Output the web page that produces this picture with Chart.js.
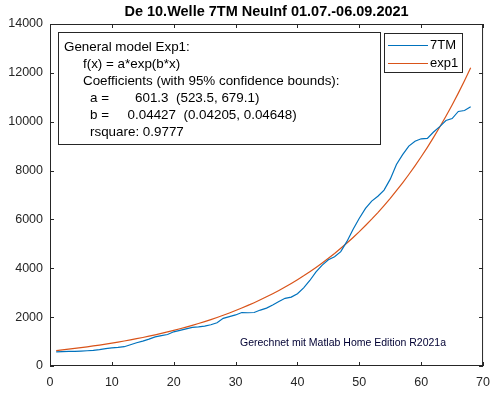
<!DOCTYPE html>
<html lang="de">
<head>
    <meta charset="UTF-8">
    <title>De 10.Welle 7TM NeuInf</title>
    <script src="https://cdn.jsdelivr.net/npm/chart.js"></script>
    <style>
        body { margin: 0; background: #ffffff; }
        .chart-box { width: 499px; height: 396px; position: relative; }
    </style>
</head>
<body>
    <div class="chart-box">
        <canvas id="fitChart"></canvas>
    </div>

    <script>
        // Tage seit 01.07.
        const days = [1, 2, 3, 4, 5, 6, 7, 8, 9, 10, 11, 12, 13, 14, 15, 16, 17, 18, 19, 20,
            21, 22, 23, 24, 25, 26, 27, 28, 29, 30, 31, 32, 33, 34, 35, 36, 37, 38, 39, 40,
            41, 42, 43, 44, 45, 46, 47, 48, 49, 50, 51, 52, 53, 54, 55, 56, 57, 58, 59, 60,
            61, 62, 63, 64, 65, 66, 67, 68];

        // 7-Tage-Mittel Neuinfektionen
        const sevenDayMean = [580, 590, 595, 600, 610, 625, 640, 670, 710, 740,
            760, 790, 870, 950, 1020, 1100, 1190, 1240, 1290, 1400,
            1460, 1520, 1580, 1600, 1630, 1690, 1770, 1950, 2020, 2090,
            2190, 2180, 2190, 2290, 2370, 2500, 2640, 2770, 2820, 2960,
            3200, 3500, 3850, 4130, 4350, 4470, 4680, 5100, 5600, 6050,
            6450, 6750, 6950, 7200, 7650, 8250, 8650, 9000, 9200, 9300,
            9320, 9580, 9800, 10050, 10130, 10420, 10460, 10610];

        // Fit exp1 (a*exp(b*x))
        const expFit = [629, 657, 687, 718, 750, 784, 820, 857, 896, 936,
            979, 1023, 1069, 1118, 1168, 1221, 1276, 1334, 1395, 1458,
            1524, 1593, 1665, 1740, 1819, 1901, 1987, 2077, 2171, 2270,
            2372, 2480, 2592, 2709, 2832, 2960, 3094, 3234, 3381, 3534,
            3693, 3860, 4035, 4218, 4409, 4608, 4817, 5035, 5263, 5501,
            5750, 6010, 6282, 6567, 6864, 7175, 7500, 7839, 8194, 8565,
            8952, 9358, 9781, 10224, 10687, 11171, 11677, 12205];

        const xTicks = [0, 10, 20, 30, 40, 50, 60, 70];
        const yTicks = [0, 2000, 4000, 6000, 8000, 10000, 12000, 14000];

        const titleText = 'De 10.Welle 7TM NeuInf 01.07.-06.09.2021';
        const fitText = [
            'General model Exp1:',
            'f(x) = a*exp(b*x)',
            'Coefficients (with 95% confidence bounds):',
            'a =       601.3  (523.5, 679.1)',
            'b =     0.04427  (0.04205, 0.04648)',
            'rsquare: 0.9777'
        ];
        const noteText = 'Gerechnet mit Matlab Home Edition R2021a';
        const seriesNames = ['7TM', 'exp1'];

        const blue = '#0072BD';
        const orange = '#D95319';
        const axisColor = '#262626';
        const fontFam = '"Liberation Sans", Arial, sans-serif';

        // Rahmen, Ticks nach innen, Titel, Textbox und Legende
        const matlabLook = {
            id: 'matlabLook',
            afterDraw(chart) {
                const c = chart.ctx;
                const a = chart.chartArea;
                const xs = chart.scales.x;
                const ys = chart.scales.y;
                c.save();
                c.strokeStyle = axisColor;
                c.lineWidth = 1;
                c.strokeRect(a.left + 0.5, a.top + 0.5, a.right - a.left - 1, a.bottom - a.top - 1);
                const t = 4;
                c.beginPath();
                xTicks.forEach(v => {
                    const px = Math.round(xs.getPixelForValue(v)) + 0.5;
                    c.moveTo(px, a.bottom); c.lineTo(px, a.bottom - t);
                    c.moveTo(px, a.top); c.lineTo(px, a.top + t);
                });
                yTicks.forEach(v => {
                    const py = Math.round(ys.getPixelForValue(v)) + 0.5;
                    c.moveTo(a.left, py); c.lineTo(a.left + t, py);
                    c.moveTo(a.right, py); c.lineTo(a.right - t, py);
                });
                c.stroke();

                // Titel
                c.fillStyle = '#000000';
                c.font = 'bold 14.5px ' + fontFam;
                c.textAlign = 'center';
                c.textBaseline = 'middle';
                c.fillText(titleText, (a.left + a.right) / 2, 12);

                // Textbox mit Fit-Ergebnis
                c.fillStyle = '#ffffff';
                c.fillRect(58, 32, 322, 112);
                c.strokeStyle = '#262626';
                c.strokeRect(58.5, 32.5, 322, 112);
                c.fillStyle = '#000000';
                c.font = '13.4px ' + fontFam;
                c.textAlign = 'left';
                const indent = [64, 83, 83, 90, 90, 90];
                fitText.forEach((line, i) => {
                    c.fillText(line, indent[i], 47 + i * 17);
                });

                // Legende
                c.fillStyle = '#ffffff';
                c.fillRect(384, 33, 78, 39);
                c.strokeStyle = '#262626';
                c.strokeRect(384.5, 33.5, 78, 39);
                c.font = '13px ' + fontFam;
                [blue, orange].forEach((col, i) => {
                    const ly = 45 + i * 18;
                    c.strokeStyle = col;
                    c.lineWidth = 1;
                    c.beginPath();
                    c.moveTo(388, ly + 0.5); c.lineTo(428, ly + 0.5);
                    c.stroke();
                    c.fillStyle = '#000000';
                    c.fillText(seriesNames[i], 430, ly);
                });

                // Hinweis unten
                c.fillStyle = '#000033';
                c.font = '10.5px ' + fontFam;
                c.fillText(noteText, 240, 343);
                c.restore();
            }
        };

        const ctx = document.getElementById('fitChart').getContext('2d');
        const fitChart = new Chart(ctx, {
            type: 'line',
            data: {
                datasets: [
                    {
                        label: seriesNames[0],
                        data: days.map((d, i) => ({ x: d, y: sevenDayMean[i] })),
                        borderColor: blue,
                        borderWidth: 1.2,
                        pointRadius: 0,
                        fill: false
                    },
                    {
                        label: seriesNames[1],
                        data: days.map((d, i) => ({ x: d, y: expFit[i] })),
                        borderColor: orange,
                        borderWidth: 1.2,
                        pointRadius: 0,
                        fill: false
                    }
                ]
            },
            options: {
                responsive: true,
                maintainAspectRatio: false,
                animation: false,
                layout: { padding: { top: 24, right: 15, left: 0, bottom: 0 } },
                scales: {
                    x: {
                        type: 'linear',
                        min: 0,
                        max: 70,
                        afterBuildTicks: s => { s.ticks = xTicks.map(v => ({ value: v })); },
                        afterFit: s => { s.height = 30; },
                        grid: { display: false, drawTicks: false },
                        border: { display: false },
                        ticks: {
                            color: axisColor,
                            padding: 9,
                            maxRotation: 0,
                            font: { family: fontFam, size: 12.5 }
                        }
                    },
                    y: {
                        min: 0,
                        max: 14000,
                        afterBuildTicks: s => { s.ticks = yTicks.map(v => ({ value: v })); },
                        afterFit: s => { s.width = 50; },
                        grid: { display: false, drawTicks: false },
                        border: { display: false },
                        ticks: {
                            color: axisColor,
                            padding: 7,
                            callback: v => String(v),
                            font: { family: fontFam, size: 12.5 }
                        }
                    }
                },
                plugins: {
                    legend: { display: false },
                    tooltip: { enabled: false }
                }
            },
            plugins: [matlabLook]
        });
    </script>
</body>
</html>
